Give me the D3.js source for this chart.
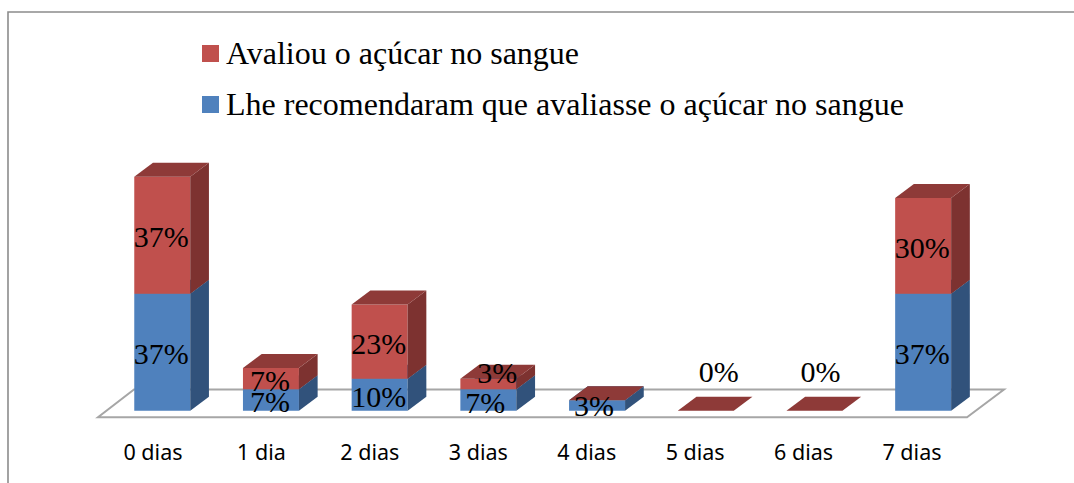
<!DOCTYPE html>
<html><head><meta charset="utf-8">
<script src="https://cdn.jsdelivr.net/npm/d3@7"></script>
<style>html,body{margin:0;padding:0;background:#fff}svg{display:block}</style>
</head><body><svg id="c" width="1074" height="483"></svg>
<script>
const categories = ["0 dias","1 dia","2 dias","3 dias","4 dias","5 dias","6 dias","7 dias"];
const recomendaram = [36.7,6.7,10,6.7,3.3,0,0,36.7];
const avaliou = [36.7,6.7,23.3,3.3,0,0,0,30];
const recomendaramLabels = ["37%","7%","10%","7%","3%",null,null,"37%"];
const avaliouLabels = ["37%","7%","23%","3%",null,"0%","0%","30%"];
const legendNames = ["Avaliou o açúcar no sangue","Lhe recomendaram que avaliasse o açúcar no sangue"];

const dx=18.7,dy=-14;
const svg=d3.select("#c");
const x=d3.scaleBand().domain(categories).range([107.9,977.5]).paddingInner(0.485).paddingOuter(0.2425);
const xLabel=d3.scalePoint().domain(categories).range([153,912]);
const y=d3.scaleLinear().domain([0,36.7]).range([410.7,293.7]);
const colors={red:{front:"#C0504D",side:"#7D3230",top:"#8E3A38"},blue:{front:"#4F81BD",side:"#31527B",top:"#3A6190"}};

// frame
svg.append("path").attr("d","M8,483V12H1074").attr("fill","none").attr("stroke","#8c8c8c").attr("stroke-width",1.6);
// floor
const floor=d3.line();
svg.append("path").attr("d",floor([[134,389.5],[1004,389.5],[967,417.3],[98,417.3]])+"Z")
  .attr("fill","#fff").attr("stroke","#a6a6a6").attr("stroke-width",2);

function box(g,x0,w,yBase,yTop,c){
  const poly=p=>g.append("path").attr("d",floor(p)+"Z");
  poly([[x0,yBase],[x0+w,yBase],[x0+w,yTop],[x0,yTop]]).attr("fill",c.front);
  poly([[x0+w,yBase],[x0+w+dx,yBase+dy],[x0+w+dx,yTop+dy],[x0+w,yTop]]).attr("fill",c.side);
  poly([[x0,yTop],[x0+dx,yTop+dy],[x0+w+dx,yTop+dy],[x0+w,yTop]]).attr("fill",c.top);
}
const bars=svg.append("g");
categories.forEach((cat,i)=>{
  const x0=x(cat),w=x.bandwidth(),g=bars.append("g");
  const yb=y(recomendaram[i]),yt=y(recomendaram[i]+avaliou[i]);
  if(recomendaram[i]>0) box(g,x0,w,y(0),yb,colors.blue);
  box(g,x0,w,yb,yt,colors.red);
});
// category labels
const axisG=svg.append("g").attr("font-family","'Noto Sans',sans-serif").attr("font-size",21.5).attr("fill","#000").attr("text-anchor","middle");
categories.forEach(c=>axisG.append("text").attr("x",xLabel(c)).attr("y",460).text(c));
// data labels, nudged as in the original
const nudgeBlue={3:[-2,1],4:[-2,-1]};
const nudgeRed={3:[10,-13],5:[14,-41],6:[7,-41]};
const lab=svg.append("g").attr("font-family","'Liberation Serif',serif").attr("font-size",30).attr("fill","#000").attr("text-anchor","middle");
categories.forEach((c,i)=>{
  const cx=x(c)+x.bandwidth()/2;
  const yb=y(recomendaram[i]),yt=y(recomendaram[i]+avaliou[i]);
  if(recomendaramLabels[i]){const n=nudgeBlue[i]||[0,0];
    lab.append("text").attr("x",cx-1+n[0]).attr("y",(yb+y(0))/2+12+n[1]).text(recomendaramLabels[i]);}
  if(avaliouLabels[i]){const n=nudgeRed[i]||[0,0];
    lab.append("text").attr("x",cx-1+n[0]).attr("y",(yb+yt)/2+12+n[1]).text(avaliouLabels[i]);}
});
// legend
const leg=svg.append("g");
[[colors.red.front,45,64],[colors.blue.front,96,115]].forEach((d,i)=>{
  leg.append("rect").attr("x",202).attr("y",d[1]).attr("width",17).attr("height",17).attr("fill",d[0]);
  leg.append("text").attr("x",226).attr("y",d[2]).attr("font-family","'Liberation Serif',serif").attr("font-size",32).attr("fill","#000").text(legendNames[i]);
});
</script></body></html>
